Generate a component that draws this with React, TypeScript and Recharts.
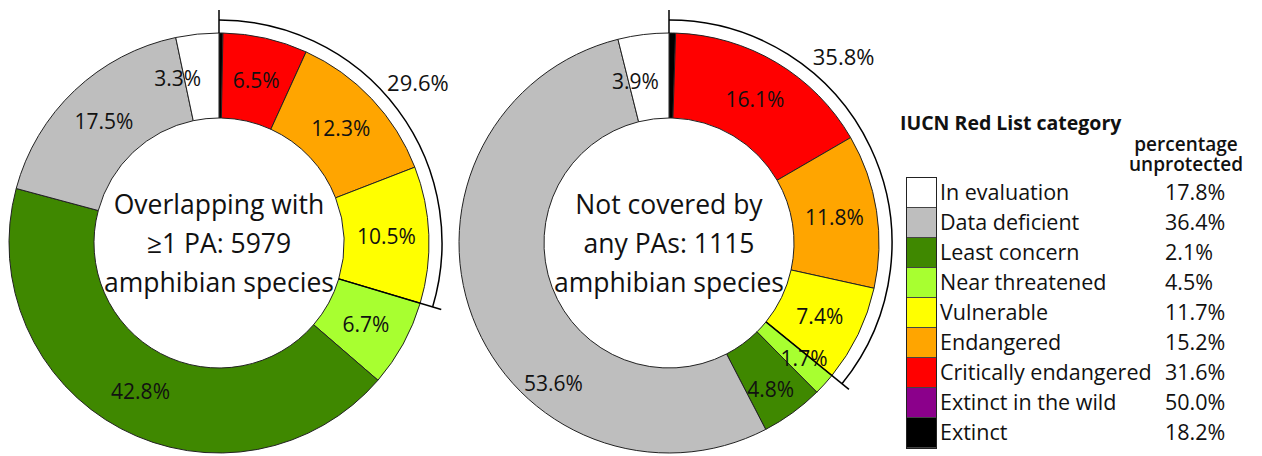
import { Cell, Legend, Pie, PieChart } from 'recharts';

// categories in clockwise order from 12 o'clock
const categories = [
  'Extinct',
  'Extinct in the wild',
  'Critically endangered',
  'Endangered',
  'Vulnerable',
  'Near threatened',
  'Least concern',
  'Data deficient',
  'In evaluation',
];
const colors = ['#000000', '#8b008b', '#ff0000', '#ffa500', '#ffff00', '#a8ff30', '#3f8800', '#bebebe', '#ffffff'];

const overlappingShares = [0.3, 0, 6.5, 12.3, 10.5, 6.7, 42.8, 17.5, 3.3];
const notCoveredShares = [0.5, 0, 16.1, 11.8, 7.4, 1.7, 4.8, 53.6, 3.9];
const unprotectedPct = [18.2, 50.0, 31.6, 15.2, 11.7, 4.5, 2.1, 36.4, 17.8];

// the bracket covers the first five (threatened or worse) categories
const bracketedCount = 5;
const legendOrder = [8, 7, 6, 5, 4, 3, 2, 1, 0];

const font = '"Open Sans", "Noto Sans", sans-serif';
const RAD = Math.PI / 180;
const INNER = 125;
const OUTER = 210;
const BRACKET_R = 223;
const CY = 243;

const polar = (cx: number, cy: number, r: number, angle: number) => ({
  x: cx + r * Math.cos(-angle * RAD),
  y: cy + r * Math.sin(-angle * RAD),
});

const toRows = (shares: number[]) => categories.map((name, i) => ({ name, value: shares[i] }));

const bracketRows = (shares: number[]) => {
  const inside = shares.slice(0, bracketedCount).reduce((a, b) => a + b, 0);
  const total = shares.reduce((a, b) => a + b, 0);
  return [
    { name: 'bracket', value: inside },
    { name: 'rest', value: total - inside },
  ];
};

const valueLabel = (nudges: Record<string, [number, number]>) => (props: any) => {
  const { cx, cy, midAngle, innerRadius, outerRadius, value } = props;
  const name = props.payload?.name ?? props.name;
  if (value < 1) return null;
  const [dx, dy] = nudges[name] ?? [0, 0];
  const p = polar(cx, cy, (innerRadius + outerRadius) / 2, midAngle);
  return (
    <text
      x={p.x + dx}
      y={p.y + dy}
      textAnchor="middle"
      dominantBaseline="central"
      fontSize={21}
      fontFamily={font}
      fill="#111"
    >
      {value.toFixed(1)}%
    </text>
  );
};

const bracketLabel = (textAngleFromTop: number) => (props: any) => {
  const { cx, cy, startAngle, endAngle, value, index } = props;
  if (index !== 0) return null;
  const a0 = polar(cx, cy, BRACKET_R, startAngle);
  const a1 = polar(cx, cy, BRACKET_R, endAngle);
  const large = Math.abs(startAngle - endAngle) > 180 ? 1 : 0;
  const t0 = polar(cx, cy, OUTER, startAngle);
  const t1 = polar(cx, cy, BRACKET_R + 10, startAngle);
  const e0 = polar(cx, cy, INNER, endAngle);
  const e1 = polar(cx, cy, BRACKET_R + 9, endAngle);
  const tp = polar(cx, cy, 256, 90 - textAngleFromTop);
  return (
    <g>
      <path
        d={`M${a0.x},${a0.y} A${BRACKET_R},${BRACKET_R} 0 ${large} 1 ${a1.x},${a1.y}`}
        fill="none"
        stroke="#000"
        strokeWidth={1.5}
      />
      <line x1={t0.x} y1={t0.y} x2={t1.x} y2={t1.y} stroke="#000" strokeWidth={1.5} />
      <line x1={e0.x} y1={e0.y} x2={e1.x} y2={e1.y} stroke="#000" strokeWidth={1.5} />
      <text
        x={tp.x}
        y={tp.y}
        textAnchor="middle"
        dominantBaseline="central"
        fontSize={22}
        fontFamily={font}
        fill="#111"
      >
        {value.toFixed(1)}%
      </text>
    </g>
  );
};

const centerText = (cx: number, lines: string[]) => (
  <text x={cx} y={CY - 39} textAnchor="middle" fontSize={26.5} fontFamily={font} fill="#111">
    {lines.map((l, i) => (
      <tspan key={l} x={cx} dy={i === 0 ? 0 : 39} dominantBaseline="central">
        {l}
      </tspan>
    ))}
  </text>
);

function LegendBox() {
  return (
    <div style={{ fontFamily: font, color: '#111', position: 'relative', width: 362, height: 350 }}>
      <div style={{ position: 'absolute', left: 2, top: 1, fontSize: 19.5, fontWeight: 700, whiteSpace: 'nowrap' }}>
        IUCN Red List category
      </div>
      <div
        style={{
          position: 'absolute',
          left: 218,
          top: 26,
          width: 140,
          fontSize: 19,
          fontWeight: 600,
          lineHeight: '20px',
          textAlign: 'center',
        }}
      >
        percentage
        <br />
        unprotected
      </div>
      <div
        style={{
          position: 'absolute',
          left: 8,
          top: 69,
          width: 29,
          border: '1.5px solid #222',
        }}
      >
        {legendOrder.map((i) => (
          <div
            key={categories[i]}
            style={{ height: 30, background: colors[i], borderBottom: '1px solid #444', boxSizing: 'border-box' }}
          />
        ))}
      </div>
      {legendOrder.map((i, row) => (
        <div key={categories[i]}>
          <div
            style={{
              position: 'absolute',
              left: 42,
              top: 69 + row * 30,
              height: 30,
              lineHeight: '30px',
              fontSize: 21.5,
              whiteSpace: 'nowrap',
            }}
          >
            {categories[i]}
          </div>
          <div
            style={{
              position: 'absolute',
              left: 267,
              top: 69 + row * 30,
              height: 30,
              lineHeight: '30px',
              fontSize: 21.5,
            }}
          >
            {unprotectedPct[i].toFixed(1)}%
          </div>
        </div>
      ))}
    </div>
  );
}

export default function App() {
  return (
    <div style={{ position: 'absolute', left: 0, top: 0, background: '#fff' }}>
      <PieChart width={1262} height={456} margin={{ top: 0, right: 0, bottom: 0, left: 0 }}>
        <Pie
          data={toRows(overlappingShares)}
          dataKey="value"
          nameKey="name"
          cx={219}
          cy={CY}
          innerRadius={INNER}
          outerRadius={OUTER}
          startAngle={90}
          endAngle={-270}
          stroke="#222"
          strokeWidth={1}
          label={valueLabel({ 'In evaluation': [-24, 2] })}
          labelLine={false}
          isAnimationActive={false}
        >
          {categories.map((c, i) => (
            <Cell key={c} fill={colors[i]} />
          ))}
        </Pie>
        <Pie
          data={bracketRows(overlappingShares)}
          dataKey="value"
          cx={219}
          cy={CY}
          innerRadius={BRACKET_R}
          outerRadius={BRACKET_R}
          startAngle={90}
          endAngle={-270}
          fill="none"
          stroke="none"
          label={bracketLabel(51)}
          labelLine={false}
          isAnimationActive={false}
        />
        <Pie
          data={toRows(notCoveredShares)}
          dataKey="value"
          nameKey="name"
          cx={669}
          cy={CY}
          innerRadius={INNER}
          outerRadius={OUTER}
          startAngle={90}
          endAngle={-270}
          stroke="#222"
          strokeWidth={1}
          label={valueLabel({
            'In evaluation': [-13, 4],
            'Data deficient': [41, 81],
            'Near threatened': [11, 2],
            'Least concern': [3, 11],
          })}
          labelLine={false}
          isAnimationActive={false}
        >
          {categories.map((c, i) => (
            <Cell key={c} fill={colors[i]} />
          ))}
        </Pie>
        <Pie
          data={bracketRows(notCoveredShares)}
          dataKey="value"
          cx={669}
          cy={CY}
          innerRadius={BRACKET_R}
          outerRadius={BRACKET_R}
          startAngle={90}
          endAngle={-270}
          fill="none"
          stroke="none"
          label={bracketLabel(43)}
          labelLine={false}
          isAnimationActive={false}
        />
        {centerText(219, ['Overlapping with', '≥1 PA: 5979', 'amphibian species'])}
        {centerText(669, ['Not covered by', 'any PAs: 1115', 'amphibian species'])}
        <Legend
          content={() => <LegendBox />}
          wrapperStyle={{ position: 'absolute', left: 898, top: 108, width: 362, height: 350 }}
        />
      </PieChart>
    </div>
  );
}
